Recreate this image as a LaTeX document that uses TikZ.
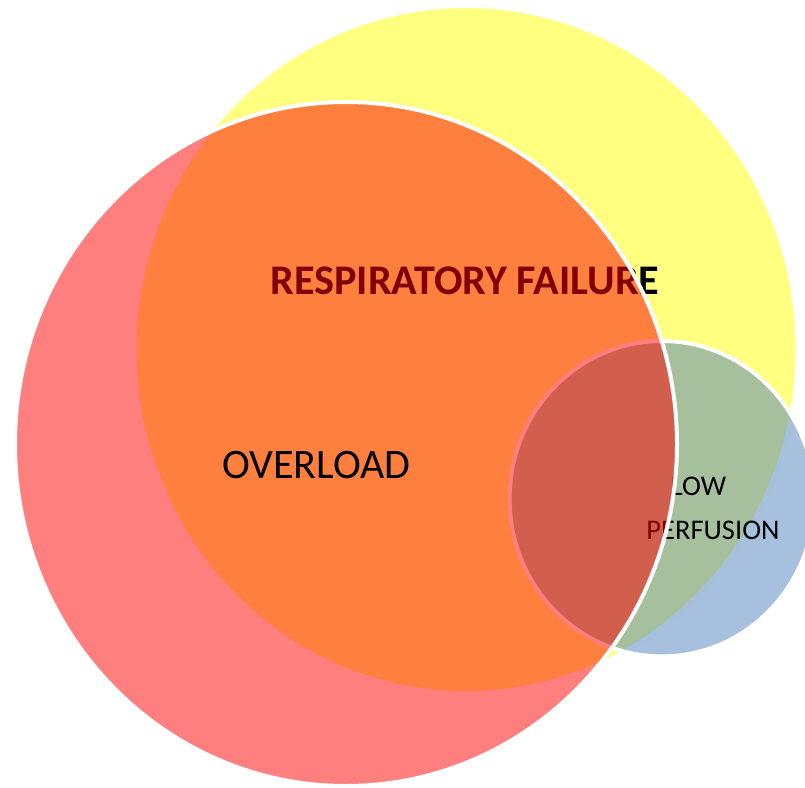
\documentclass[tikz,border=0pt]{standalone}
\usepackage{fontspec}
\setmainfont{Carlito}
\definecolor{setyellow}{HTML}{FFFF00}
\definecolor{setred}{HTML}{FF0000}
\definecolor{setblue}{HTML}{4F81BD}
\begin{document}
\begin{tikzpicture}[x=1pt,y=-1pt,
  ring/.style={draw=white, line width=4pt, fill opacity=0.5},
  vtext/.style={inner sep=0pt, anchor=base, text=black}]
\useasboundingbox (0,0) rectangle (805,787);
\clip (0,0) rectangle (805,787);
% respiratory failure set
\path[ring, fill=setyellow] (466,349.5) ellipse [x radius=331.5pt, y radius=343.5pt];
% low perfusion set
\path[ring, fill=setblue] (662,498.7) ellipse [x radius=152.4pt, y radius=157.7pt];
% labels that sit beneath the overload set
\node[vtext, font=\bfseries\fontsize{42.2}{50}\selectfont] (resp) at (465,294) {RESPIRATORY FAILURE};
\node[vtext, font=\fontsize{28.5}{34}\selectfont] (low) at (698.5,495) {LOW};
\node[vtext, font=\fontsize{28.5}{34}\selectfont] (perf) at (713,539) {PERFUSION};
% overload set
\path[ring, fill=setred] (346,444) ellipse [x radius=331pt, y radius=342pt];
\node[vtext, font=\fontsize{42}{50}\selectfont] (over) at (316.5,478) {OVERLOAD};
\end{tikzpicture}
\end{document}
